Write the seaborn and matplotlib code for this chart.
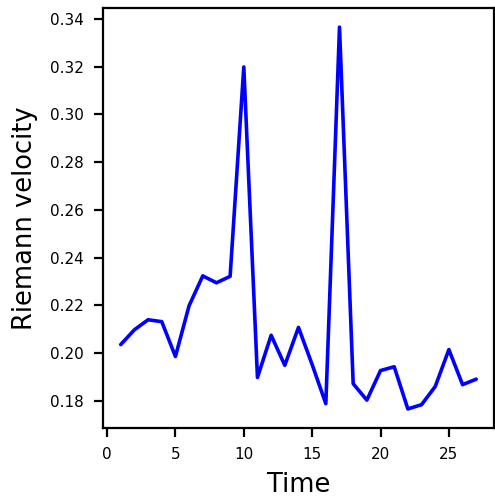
import matplotlib
matplotlib.use("Agg")
import matplotlib.pyplot as plt
import seaborn as sns
import pandas as pd

time = list(range(1, 28))
velocity = [0.2035, 0.2097, 0.2139, 0.2131, 0.1985, 0.2198, 0.2323, 0.2294, 0.2321,
            0.3199, 0.1897, 0.2074, 0.1948, 0.2107, 0.1951, 0.1787, 0.3366, 0.1871,
            0.1802, 0.1926, 0.1942, 0.1765, 0.1783, 0.1859, 0.2014, 0.1867, 0.1890]

sns.set_style("ticks")
df = pd.DataFrame({"Time": time, "Riemann velocity": velocity})

fig, ax = plt.subplots(figsize=(4.95, 5.03), dpi=100)
sns.lineplot(data=df, x="Time", y="Riemann velocity", color="blue", linewidth=2.6, ax=ax)
ax.set_xlabel("Time", fontsize=18.5, color="black", labelpad=7)
ax.set_ylabel("Riemann velocity", fontsize=18.5, color="black", labelpad=9)
ax.tick_params(labelsize=11, width=1.6, length=6.5, pad=7, color="black", labelcolor="black")
for s in ax.spines.values():
    s.set_linewidth(1.6)
    s.set_color("black")
ax.set_xticks([0, 5, 10, 15, 20, 25])
fig.subplots_adjust(left=0.208, right=0.998, top=0.984, bottom=0.149)
fig.savefig("out.png", dpi=100)
